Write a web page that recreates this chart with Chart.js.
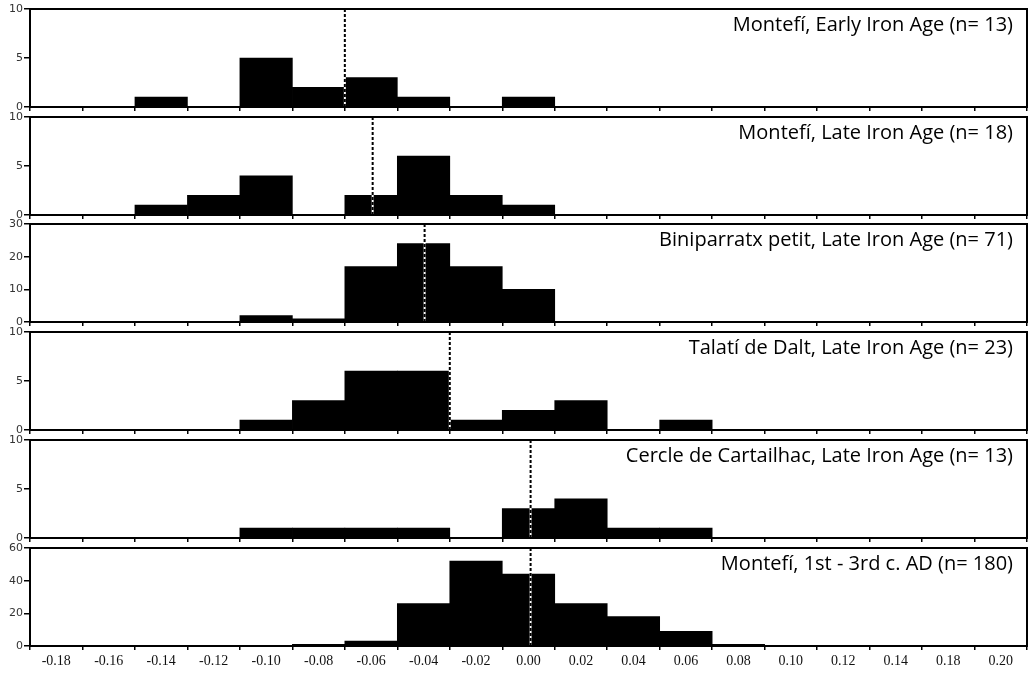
<!DOCTYPE html>
<html>
<head>
<meta charset="utf-8">
<script src="https://cdn.jsdelivr.net/npm/chart.js@4.4.1/dist/chart.umd.min.js"></script>
<style>
  html, body { margin: 0; background: #fff; }
  #wrap { position: relative; width: 1030px; height: 673px; overflow: hidden; }
  #wrap canvas { position: absolute; left: 0; }
</style>
</head>
<body>
<div id="wrap"></div>
<script>
// bin labels as printed on the original axis (note: 0.16 is missing there)
const BIN_LABELS = ['-0.18', '-0.16', '-0.14', '-0.12', '-0.10', '-0.08', '-0.06', '-0.04', '-0.02',
  '0.00', '0.02', '0.04', '0.06', '0.08', '0.10', '0.12', '0.14', '0.18', '0.20'];

const TITLES = [
  'Montefí, Early Iron Age (n= 13)',
  'Montefí, Late Iron Age (n= 18)',
  'Biniparratx petit, Late Iron Age (n= 71)',
  'Talatí de Dalt, Late Iron Age (n= 23)',
  'Cercle de Cartailhac, Late Iron Age (n= 13)',
  'Montefí, 1st - 3rd c. AD (n= 180)'
];

// counts per bin
const MONTEFI_EIA   = [0, 0, 1, 0, 5, 2, 3, 1, 0, 1, 0, 0, 0, 0, 0, 0, 0, 0, 0];
const MONTEFI_LIA   = [0, 0, 1, 2, 4, 0, 2, 6, 2, 1, 0, 0, 0, 0, 0, 0, 0, 0, 0];
const BINIPARRATX   = [0, 0, 0, 0, 2, 1, 17, 24, 17, 10, 0, 0, 0, 0, 0, 0, 0, 0, 0];
const TALATI        = [0, 0, 0, 0, 1, 3, 6, 6, 1, 2, 3, 0, 1, 0, 0, 0, 0, 0, 0];
const CARTAILHAC    = [0, 0, 0, 0, 1, 1, 1, 1, 0, 3, 4, 1, 1, 0, 0, 0, 0, 0, 0];
const MONTEFI_ROMAN = [0, 0, 0, 0, 0, 1, 3, 26, 52, 44, 26, 18, 9, 1, 0, 0, 0, 0, 0];

// sample means (dotted lines)
const MEANS = [-0.07, -0.0594, -0.0396, -0.03, 0.0008, 0.0008];

const Y_MAX  = [10, 10, 30, 10, 10, 60];
const Y_STEP = [5, 5, 10, 5, 5, 20];

const SERIES = [MONTEFI_EIA, MONTEFI_LIA, BINIPARRATX, TALATI, CARTAILHAC, MONTEFI_ROMAN];

// layout
const PANEL_TOP = [9, 117, 224, 332, 440, 548];
const PANEL_H = 98;
const PAD_TOP = 10;

const framePlugin = {
  id: 'frame',
  afterDraw(chart, args, opts) {
    const { ctx, chartArea: a } = chart;
    ctx.save();
    ctx.strokeStyle = '#000';
    ctx.lineWidth = 2;
    ctx.strokeRect(a.left, a.top, a.right - a.left, a.bottom - a.top);
    ctx.fillStyle = '#000';
    ctx.font = '20px "Open Sans", sans-serif';
    ctx.textAlign = 'right';
    ctx.textBaseline = 'alphabetic';
    ctx.fillText(opts.title, a.right - 14, a.top + 22);
    ctx.restore();
  }
};

const wrap = document.getElementById('wrap');

SERIES.forEach((counts, i) => {
  const last = i === SERIES.length - 1;
  const xh = last ? 28 : 8;
  const canvas = document.createElement('canvas');
  canvas.width = 1030;
  canvas.height = PAD_TOP + PANEL_H + xh;
  canvas.style.top = (PANEL_TOP[i] - PAD_TOP) + 'px';
  wrap.appendChild(canvas);

  const meanLine = [{ x: MEANS[i], y: 0 }, { x: MEANS[i], y: Y_MAX[i] }];

  new Chart(canvas, {
    type: 'bar',
    data: {
      labels: BIN_LABELS,
      datasets: [
        {
          type: 'line',
          data: meanLine,
          xAxisID: 'x2',
          borderColor: '#fff',
          borderWidth: 2,
          pointRadius: 0,
          order: 1
        },
        {
          type: 'line',
          data: meanLine,
          xAxisID: 'x2',
          borderColor: '#000',
          borderWidth: 2,
          borderDash: [3, 2],
          pointRadius: 0,
          order: 0
        },
        {
          data: counts,
          backgroundColor: '#000',
          borderWidth: 0,
          grouped: false,
          categoryPercentage: 1,
          barPercentage: 1,
          order: 2
        }
      ]
    },
    options: {
      responsive: false,
      animation: false,
      events: [],
      layout: { padding: { top: PAD_TOP, right: 3, left: 0, bottom: 0 } },
      plugins: {
        legend: { display: false },
        tooltip: { enabled: false },
        frame: { title: TITLES[i] }
      },
      scales: {
        x: {
          type: 'category',
          offset: true,
          afterFit(s) { s.height = xh; },
          grid: { offset: true, drawOnChartArea: false, drawTicks: true, tickLength: 4, color: '#000', lineWidth: 1.5 },
          border: { display: true, color: '#000', width: 2 },
          ticks: {
            display: last,
            autoSkip: false,
            maxRotation: 0,
            padding: 3,
            color: '#111',
            font: { family: '"Liberation Serif", serif', size: 14 }
          }
        },
        x2: {
          type: 'linear',
          display: false,
          offset: false,
          grid: { offset: false },
          min: -0.19,
          max: 0.19
        },
        y: {
          min: 0,
          max: Y_MAX[i],
          afterFit(s) { s.width = 30; },
          grid: { drawOnChartArea: false, drawTicks: true, tickLength: 6, color: '#000', lineWidth: 1.5 },
          border: { display: true, color: '#000', width: 2 },
          ticks: {
            stepSize: Y_STEP[i],
            padding: 1,
            color: '#333',
            font: { family: '"DejaVu Sans", sans-serif', size: 11 }
          }
        }
      }
    },
    plugins: [framePlugin]
  });
});
</script>
</body>
</html>
